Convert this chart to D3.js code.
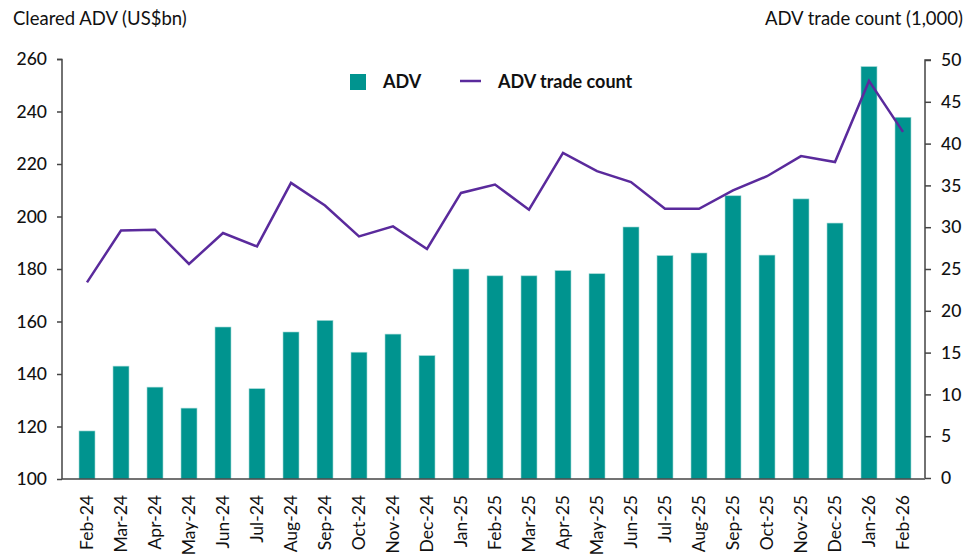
<!DOCTYPE html>
<html lang="en">
<head>
  <meta charset="UTF-8">
  <title>Cleared ADV and trade count</title>
  <script src="https://d3js.org/d3.v7.min.js"></script>
  <style>
    body { margin: 0; background: #fff; font-family: Lato, "Open Sans", sans-serif; }
    .tick text { font-family: Lato, sans-serif; fill: #111; }
    .title { font-size: 18.5px; fill: #111; }
    .legend text { font-size: 18px; font-weight: 700; fill: #111; }
  </style>
</head>
<body>
  <svg id="chart" width="969" height="557"></svg>
  <script>
    const months = ["Feb-24","Mar-24","Apr-24","May-24","Jun-24","Jul-24","Aug-24","Sep-24","Oct-24","Nov-24","Dec-24",
      "Jan-25","Feb-25","Mar-25","Apr-25","May-25","Jun-25","Jul-25","Aug-25","Sep-25","Oct-25","Nov-25","Dec-25","Jan-26","Feb-26"];
    const adv = [118.3,143.0,135.0,127.0,157.9,134.4,156.0,160.4,148.3,155.2,147.0,
      180.0,177.4,177.4,179.4,178.2,196.0,185.1,186.1,207.9,185.3,206.7,197.5,257.1,237.8];
    const tradeCount = [23.4,29.6,29.7,25.6,29.3,27.7,35.3,32.6,28.9,30.1,27.4,
      34.1,35.1,32.1,38.9,36.7,35.4,32.2,32.2,34.4,36.1,38.5,37.8,47.5,41.4];
    const leftTicks = [100,120,140,160,180,200,220,240,260];
    const rightTicks = [0,5,10,15,20,25,30,35,40,45,50];

    const teal = "#00948f", purple = "#5a2a9c", axisCol = "#444";
    const svg = d3.select("#chart");

    const x = d3.scaleBand().domain(months).range([70, 920]).paddingInner(0.53).paddingOuter(0.265);
    const yL = d3.scaleLinear().domain([100, 260]).range([479, 59]);
    const yR = d3.scaleLinear().domain([0, 50]).range([478, 60]);

    // bars
    svg.selectAll("rect.bar")
      .data(months)
      .enter().append("rect")
      .attr("class", "bar")
      .attr("x", d => x(d))
      .attr("width", x.bandwidth())
      .attr("y", (d, i) => yL(adv[i]))
      .attr("height", (d, i) => yL(100) - yL(adv[i]))
      .attr("fill", teal)
      .attr("stroke", "#9fd8d5")
      .attr("stroke-width", 0.6);

    // line
    const line = d3.line()
      .x((d, i) => x(months[i]) + x.bandwidth() / 2)
      .y(d => yR(d));
    svg.append("path")
      .datum(tradeCount)
      .attr("d", line)
      .attr("fill", "none")
      .attr("stroke", purple)
      .attr("stroke-width", 2.5)
      .attr("stroke-linejoin", "miter");

    // left axis
    const gL = svg.append("g")
      .attr("transform", "translate(62,0)")
      .call(d3.axisLeft(yL).tickValues(leftTicks).tickSize(5).tickPadding(10));
    // right axis
    const gR = svg.append("g")
      .attr("transform", "translate(925,0)")
      .call(d3.axisRight(yR).tickValues(rightTicks).tickSize(6).tickPadding(10));
    [gL, gR].forEach(g => {
      g.select(".domain").attr("stroke", axisCol).attr("stroke-width", 1.5)
        .attr("d", g === gL ? "M-5,59.5H0V479" : "M6,60H0V478");
      g.selectAll(".tick line").attr("stroke", axisCol).attr("stroke-width", 1.5);
      g.selectAll(".tick text").style("font-size", "17.5px").style("font-weight", 500);
    });

    // bottom axis
    const gB = svg.append("g")
      .attr("transform", "translate(0,479)")
      .call(d3.axisBottom(x).tickSize(0).tickPadding(0));
    gB.select(".domain").attr("stroke", axisCol).attr("stroke-width", 1.5).attr("d", "M62,0H925");
    gB.selectAll(".tick text")
      .style("font-size", "17.5px")
      .attr("text-anchor", "end")
      .attr("dy", "0.35em")
      .attr("transform", "translate(0,16) rotate(-90)")
      .attr("x", 0).attr("y", 0);

    // axis titles
    svg.append("text").attr("class", "title").attr("x", 13).attr("y", 25).text("Cleared ADV (US$bn)");
    svg.append("text").attr("class", "title").attr("x", 963).attr("y", 25)
      .attr("text-anchor", "end").text("ADV trade count (1,000)");

    // legend
    const lg = svg.append("g").attr("class", "legend");
    lg.append("rect").attr("x", 350).attr("y", 74).attr("width", 16).attr("height", 16).attr("fill", teal);
    lg.append("text").attr("x", 383).attr("y", 88).text("ADV");
    lg.append("line").attr("x1", 460).attr("x2", 481).attr("y1", 81).attr("y2", 81)
      .attr("stroke", purple).attr("stroke-width", 2.5);
    lg.append("text").attr("x", 498).attr("y", 88).text("ADV trade count");
  </script>
</body>
</html>
